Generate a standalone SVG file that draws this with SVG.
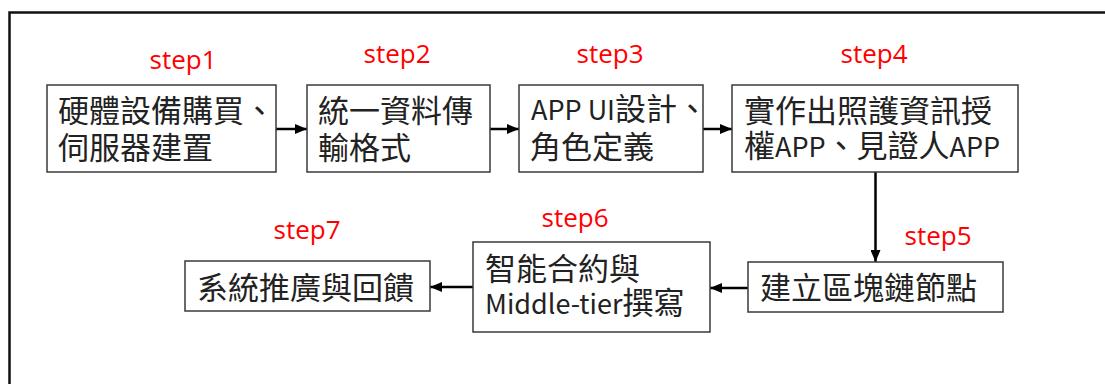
<svg xmlns="http://www.w3.org/2000/svg" width="1105" height="384" viewBox="0 0 1105 384">
<style>
.box{fill:#fff;stroke:#3a3a3a;stroke-width:1.5}
.t{font-family:"Noto Sans CJK TC","Noto Sans",sans-serif;font-size:31px;fill:#222}
.l{font-size:27px}
.step{font-family:"Open Sans","Liberation Sans",sans-serif;font-size:26px;fill:#ff0000;text-anchor:middle}
.c{stroke:#000;stroke-width:2.5;fill:none;marker-end:url(#ah)}
</style>
<defs>
<marker id="ah" markerUnits="userSpaceOnUse" markerWidth="12" markerHeight="10" refX="12" refY="5" orient="auto">
<path d="M0,0 L12,5 L0,10 Z" fill="#000"/>
</marker>
</defs>
<rect width="1105" height="384" fill="#fff"/>
<path d="M9.5,390 V12.5 H1110" fill="none" stroke="#111" stroke-width="2.5"/>
<g id="connectors">
<line class="c" x1="276" y1="129" x2="307" y2="129"/>
<line class="c" x1="490" y1="129" x2="519" y2="129"/>
<line class="c" x1="703" y1="129" x2="732" y2="129"/>
<line class="c" x1="875.5" y1="172" x2="875.5" y2="262"/>
<line class="c" x1="748" y1="288" x2="710" y2="288"/>
<line class="c" x1="473" y1="287" x2="430" y2="287"/>
</g>
<g id="step1">
<text class="step" x="183" y="69">step1</text>
<rect class="box" x="47" y="85" width="229" height="87"/>
<text class="t" x="58" y="122">硬體設備購買、<tspan x="58" y="159">伺服器建置</tspan></text>
</g>
<g id="step2">
<text class="step" x="397" y="63">step2</text>
<rect class="box" x="307" y="85" width="183" height="87"/>
<text class="t" x="318" y="122">統一資料傳<tspan x="318" y="159">輸格式</tspan></text>
</g>
<g id="step3">
<text class="step" x="610" y="63">step3</text>
<rect class="box" x="519" y="85" width="184" height="87"/>
<text class="t" x="531" y="120"><tspan class="l">APP UI</tspan>設計、<tspan x="530" y="158">角色定義</tspan></text>
</g>
<g id="step4">
<text class="step" x="874" y="63">step4</text>
<rect class="box" x="732" y="85" width="286" height="87"/>
<text class="t" x="744" y="122">實作出照護資訊授<tspan x="744" y="157">權<tspan class="l">APP</tspan>、見證人<tspan class="l">APP</tspan></tspan></text>
</g>
<g id="step5">
<text class="step" x="938" y="245">step5</text>
<rect class="box" x="748" y="262" width="255" height="50"/>
<text class="t" x="760" y="299">建立區塊鏈節點</text>
</g>
<g id="step6">
<text class="step" x="575" y="227">step6</text>
<rect class="box" x="473" y="242" width="237" height="90"/>
<text class="t" x="485" y="280">智能合約與<tspan x="485" y="314"><tspan class="l">Middle-tier</tspan>撰寫</tspan></text>
</g>
<g id="step7">
<text class="step" x="307" y="239">step7</text>
<rect class="box" x="185" y="261" width="245" height="50"/>
<text class="t" x="197" y="299">系統推廣與回饋</text>
</g>
</svg>
